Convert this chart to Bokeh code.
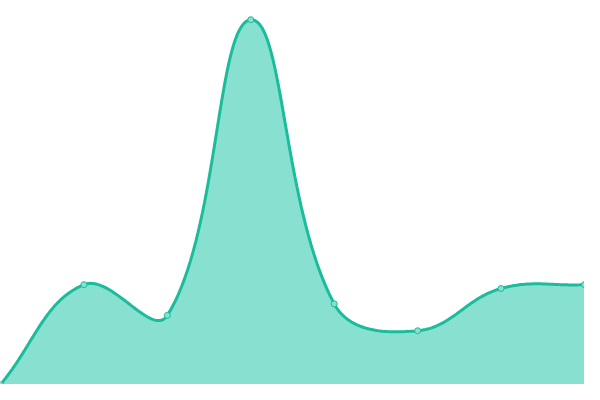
import numpy as np
from bokeh.plotting import figure
from bokeh.models import Range1d
from bokeh.embed import file_html
from bokeh.resources import INLINE

# data
x_vals = [0, 1, 2, 3, 4, 5, 6, 7]
y_vals = [0, 26, 18, 95, 21, 14, 25, 26]

W, H = 584, 384
X_MAX, Y_MAX = 7, 100


def smooth(xs, ys, tension=0.4, n=40):
    # Chart.js-style spline in pixel space
    sx = W / X_MAX
    sy = H / Y_MAX
    px = np.array(xs, float) * sx
    py = np.array(ys, float) * sy
    m = len(px)
    cp_prev = []
    cp_next = []
    for i in range(m):
        prev_i = max(i - 1, 0)
        next_i = min(i + 1, m - 1)
        d01 = np.hypot(px[i] - px[prev_i], py[i] - py[prev_i])
        d12 = np.hypot(px[next_i] - px[i], py[next_i] - py[i])
        tot = d01 + d12
        s01 = d01 / tot if tot else 0
        s12 = d12 / tot if tot else 0
        fa, fb = tension * s01, tension * s12
        dx = px[next_i] - px[prev_i]
        dy = py[next_i] - py[prev_i]
        cp_prev.append((px[i] - fa * dx, py[i] - fa * dy))
        cp_next.append((px[i] + fb * dx, py[i] + fb * dy))
    out_x, out_y = [], []
    t = np.linspace(0, 1, n)
    for i in range(m - 1):
        p0 = (px[i], py[i])
        p1 = cp_next[i]
        p2 = cp_prev[i + 1]
        p3 = (px[i + 1], py[i + 1])
        bx = (1 - t) ** 3 * p0[0] + 3 * (1 - t) ** 2 * t * p1[0] + 3 * (1 - t) * t ** 2 * p2[0] + t ** 3 * p3[0]
        by = (1 - t) ** 3 * p0[1] + 3 * (1 - t) ** 2 * t * p1[1] + 3 * (1 - t) * t ** 2 * p2[1] + t ** 3 * p3[1]
        if i > 0:
            bx, by = bx[1:], by[1:]
        out_x.extend(bx / sx)
        out_y.extend(by / sy)
    return np.array(out_x), np.array(out_y)


cx, cy = smooth(x_vals, y_vals)

p = figure(width=W, height=H, output_backend="svg", toolbar_location=None,
           x_range=Range1d(0, X_MAX), y_range=Range1d(0, Y_MAX),
           min_border=0, min_border_left=0, min_border_right=0,
           min_border_top=0, min_border_bottom=0)
p.axis.visible = False
p.grid.visible = False
p.outline_line_color = None
p.background_fill_color = "white"

p.varea(x=cx, y1=0, y2=cy, fill_color="#88e0d0", fill_alpha=1.0)
p.line(cx, cy, line_color="#1abc9c", line_width=3)
p.scatter(x_vals, y_vals, size=6, fill_color="#88e0d0", line_color="#1abc9c", line_width=1)

open("out.html", "w").write(file_html(p, INLINE))
